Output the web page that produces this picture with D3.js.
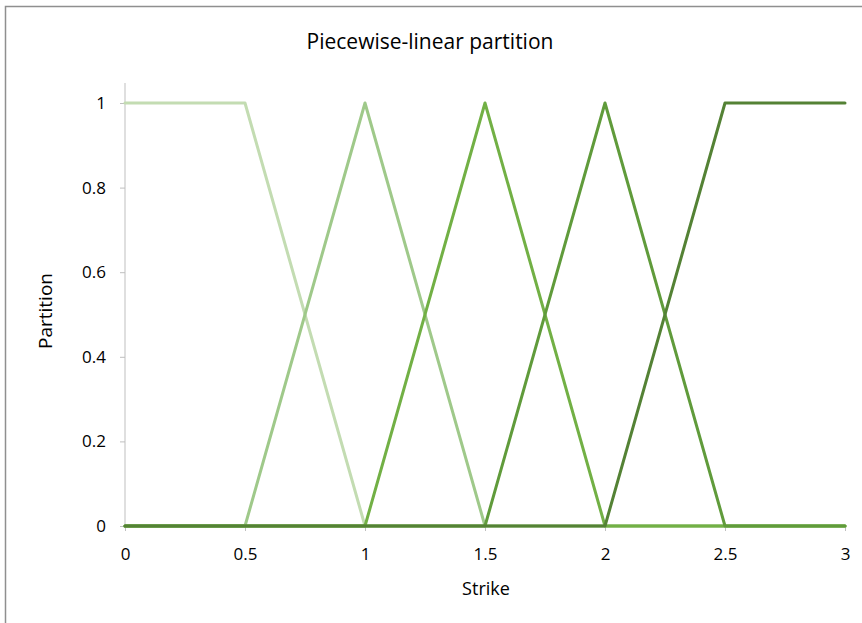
<!DOCTYPE html>
<html>
<head>
<meta charset="utf-8">
<script src="https://cdn.jsdelivr.net/npm/d3@7"></script>
<style>
  html, body { margin: 0; padding: 0; background: #fff; }
  svg { display: block; }
  text { font-family: "Open Sans", "Noto Sans", sans-serif; fill: #000; }
</style>
</head>
<body>
<svg id="chart" width="862" height="623"></svg>
<script>
const strikes = [0, 0.5, 1, 1.5, 2, 2.5, 3];
const seriesNames = ["P1", "P2", "P3", "P4", "P5"];
const seriesValues = [
  [1, 1, 0, 0, 0, 0, 0],
  [0, 0, 1, 0, 0, 0, 0],
  [0, 0, 0, 1, 0, 0, 0],
  [0, 0, 0, 0, 1, 0, 0],
  [0, 0, 0, 0, 0, 1, 1]
];
const seriesColors = ["#c3dcb2", "#9fc98a", "#72b045", "#609b3b", "#548235"];
const xTicks = [0, 0.5, 1, 1.5, 2, 2.5, 3];
const yTicks = [0, 0.2, 0.4, 0.6, 0.8, 1];
const titleText = "Piecewise-linear partition";
const xTitle = "Strike";
const yTitle = "Partition";

const svg = d3.select("#chart");
const pLeft = 125, pRight = 845, pTop = 83, pBottom = 526;

// outer frame
svg.append("rect")
  .attr("x", 5.5).attr("y", 6.5)
  .attr("width", 900).attr("height", 700)
  .attr("fill", "none").attr("stroke", "#8f8f8f").attr("stroke-width", 1.5);

const x = d3.scaleLinear().domain([0, 3]).range([pLeft, pRight]);
const y = d3.scaleLinear().domain([0, 1]).range([pBottom, 103]);

// y axis
const yAxis = d3.axisLeft(y).tickValues(yTicks).tickSize(5).tickPadding(14)
  .tickFormat(d => String(+d.toFixed(1)));
const gy = svg.append("g").attr("transform", `translate(${pLeft},0)`).call(yAxis);
gy.attr("font-size", null).attr("font-family", null);
gy.select(".domain").remove();
gy.append("line").attr("x1", 0).attr("x2", 0).attr("y1", pTop).attr("y2", pBottom)
  .attr("stroke", "#bfbfbf").attr("stroke-width", 1);
gy.selectAll(".tick line").attr("stroke", "#bfbfbf");
gy.selectAll(".tick text").style("font-size", "17px").attr("fill", "#000");

// x axis
const xAxis = d3.axisBottom(x).tickValues(xTicks).tickSize(5).tickPadding(17)
  .tickFormat(d => String(d));
const gx = svg.append("g").attr("transform", `translate(0,${pBottom})`).call(xAxis);
gx.attr("font-size", null).attr("font-family", null);
gx.select(".domain").attr("stroke", "#bfbfbf").attr("d", `M${pLeft},0H${pRight}`);
gx.selectAll(".tick line").attr("stroke", "#bfbfbf");
gx.selectAll(".tick text").style("font-size", "17px").attr("fill", "#000");

// lines
const line = d3.line().x((d, i) => x(strikes[i])).y(d => y(d));
seriesValues.forEach((vals, k) => {
  svg.append("path")
    .datum(vals)
    .attr("d", line)
    .attr("fill", "none")
    .attr("stroke", seriesColors[k])
    .attr("stroke-width", 3)
    .attr("stroke-linejoin", "round")
    .attr("stroke-linecap", "round");
});

// titles
svg.append("text").attr("x", 430).attr("y", 49).attr("text-anchor", "middle")
  .style("font-size", "21px").text(titleText);
svg.append("text").attr("x", 486).attr("y", 595).attr("text-anchor", "middle")
  .style("font-size", "18px").text(xTitle);
svg.append("text").attr("transform", "translate(52,311) rotate(-90)")
  .attr("text-anchor", "middle").style("font-size", "19px").text(yTitle);
</script>
</body>
</html>
